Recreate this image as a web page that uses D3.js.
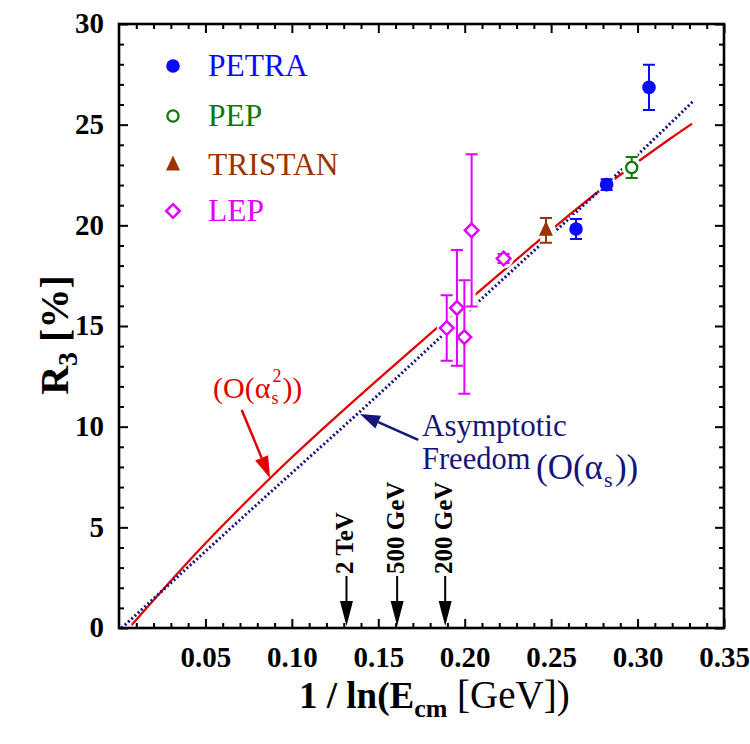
<!DOCTYPE html>
<html><head><meta charset="utf-8">
<script src="https://cdn.jsdelivr.net/npm/d3@7"></script>
<style>body{margin:0;background:#fff}svg{display:block}</style>
</head><body><svg id="c" width="750" height="744"></svg>
<script>
// ---- data ----
const xTicks = [0.05, 0.10, 0.15, 0.20, 0.25, 0.30, 0.35];
const xTickLabels = ["0.05", "0.10", "0.15", "0.20", "0.25", "0.30", "0.35"];
const yTicks = [0, 5, 10, 15, 20, 25, 30];
const yTickLabels = ["0", "5", "10", "15", "20", "25", "30"];

const petra = [ {x:0.2644, y:19.82, e:0.50}, {x:0.2821, y:22.02, e:0.27}, {x:0.3066, y:26.85, e:1.12} ];
const pep = [ {x:0.2966, y:22.87, e:0.52} ];
const tristan = [ {x:0.2470, y:19.75, e:0.62} ];
const lep = [ {x:0.1896, y:14.90, e:1.63}, {x:0.1955, y:15.90, e:2.88}, {x:0.1998, y:14.45, e:2.82}, {x:0.2040, y:19.75, e:3.78}, {x:0.2225, y:18.35, e:0.22} ];

const red2 = [ [0.0073,0.15],[0.045,3.75],[0.0874,7.44],[0.176,14.31],[0.2416,19.15],[0.2619,20.62],[0.3188,24.30],[0.3315,25.05] ];
const blue1 = [ [0.0015,0.0],[0.0864,6.65],[0.1394,10.75],[0.2098,16.35],[0.309,24.24],[0.3326,26.2] ];

const energyArrows = [ {x:0.1316, label:"2 TeV"}, {x:0.1609, label:"500 GeV"}, {x:0.1887, label:"200 GeV"} ];
const legendNames = ["PETRA", "PEP", "TRISTAN", "LEP"];

// ---- setup ----
const svg = d3.select("#c");
const FONT = "'Liberation Serif','Times New Roman',serif";
const M = {l:119, r:724, t:24, b:628};
const x = d3.scaleLinear().domain([0, 0.35]).range([M.l, M.r]);
const y = d3.scaleLinear().domain([0, 30]).range([M.b, M.t]);

const C = {petra:"#0a0aff", pep:"#0a7a0a", tristan:"#993300", lep:"#e000ff", red:"#e00000", navy:"#15157a"};

// ---- axes ----
const xMinor = d3.range(1, 35).map(i => i/100).filter(v => Math.round(v*100) % 5 !== 0);
const yMinor = d3.range(1, 30).filter(v => v % 5 !== 0);

function ax(gen, tr, vals, size, labels) {
  const g = svg.append("g").attr("transform", tr)
    .call(gen.tickValues(vals).tickSize(size).tickSizeOuter(0).tickFormat(labels ? ((d,i)=>labels[i]) : ""));
  g.select(".domain").remove();
  g.selectAll(".tick line").attr("stroke","#000").attr("stroke-width",2);
  return g;
}
const gxb = ax(d3.axisBottom(x), `translate(0,${M.b})`, xTicks, -9, xTickLabels);
ax(d3.axisBottom(x), `translate(0,${M.b})`, xMinor, -5);
ax(d3.axisTop(x), `translate(0,${M.t})`, xTicks, -9);
ax(d3.axisTop(x), `translate(0,${M.t})`, xMinor, -5);
const gyl = ax(d3.axisLeft(y), `translate(${M.l},0)`, yTicks, -9, yTickLabels);
ax(d3.axisLeft(y), `translate(${M.l},0)`, yMinor, -5);
ax(d3.axisRight(y), `translate(${M.r},0)`, yTicks, -9);
ax(d3.axisRight(y), `translate(${M.r},0)`, yMinor, -5);

gxb.selectAll("text").attr("font-family",FONT).attr("font-weight","bold").attr("font-size",29).attr("fill","#000").attr("dy",null).attr("y",39);
gyl.selectAll("text").attr("font-family",FONT).attr("font-weight","bold").attr("font-size",29).attr("fill","#000").attr("x",-15).attr("dy","0.3em");

// ---- curves ----
const line = d3.line().x(d => x(d[0])).y(d => y(d[1])).curve(d3.curveMonotoneX);
svg.append("path").datum(red2).attr("d", line).attr("fill","none").attr("stroke",C.red).attr("stroke-width",2.2);
svg.append("path").datum(blue1).attr("d", line).attr("fill","none").attr("stroke",C.navy).attr("stroke-width",3)
   .attr("stroke-dasharray","2,2.4");

// ---- markers ----
function marker(g, type, cx, cy, col) {
  if (type === "petra") g.append("circle").attr("cx",cx).attr("cy",cy).attr("r",6.8).attr("fill",col);
  else if (type === "pep") g.append("circle").attr("cx",cx).attr("cy",cy).attr("r",5.6).attr("fill","#fff").attr("stroke",col).attr("stroke-width",2.3);
  else if (type === "tristan") g.append("path").attr("d",`M${cx},${cy-9.5}L${cx+7},${cy+5.5}L${cx-7},${cy+5.5}Z`).attr("fill",col);
  else g.append("path").attr("d",`M${cx},${cy-6.8}L${cx+6.8},${cy}L${cx},${cy+6.8}L${cx-6.8},${cy}Z`).attr("fill","#fff").attr("stroke",col).attr("stroke-width",2.5);
}
function series(data, type, col) {
  const g = svg.append("g");
  data.forEach(d => {
    const cx = x(d.x), y1 = y(d.y + d.e), y2 = y(d.y - d.e);
    g.append("path").attr("d",`M${cx},${y1}V${y2}M${cx-6},${y1}H${cx+6}M${cx-6},${y2}H${cx+6}`)
      .attr("stroke","#fff").attr("stroke-width",8).attr("fill","none");
    g.append("circle").attr("cx",cx).attr("cy",y(d.y)).attr("r",10).attr("fill","#fff");
  });
  data.forEach(d => {
    const cx = x(d.x), y1 = y(d.y + d.e), y2 = y(d.y - d.e);
    g.append("path").attr("d",`M${cx},${y1}V${y2}M${cx-6},${y1}H${cx+6}M${cx-6},${y2}H${cx+6}`)
      .attr("stroke",col).attr("stroke-width",2).attr("fill","none");
    marker(g, type, cx, y(d.y), col);
  });
}
series(lep, "lep", C.lep);
series(tristan, "tristan", C.tristan);
series(petra, "petra", C.petra);
series(pep, "pep", C.pep);

// ---- legend ----
const legTypes = ["petra","pep","tristan","lep"];
const legCols = [C.petra, C.pep, C.tristan, C.lep];
const legY = [66, 116, 165, 211];
legendNames.forEach((n, i) => {
  marker(svg, legTypes[i], 173, legY[i], legCols[i]);
  svg.append("text").attr("x",208).attr("y",legY[i]+10).attr("font-family",FONT).attr("font-size",31.5)
     .attr("fill",legCols[i]).text(n);
});

// ---- annotation arrows ----
function arrow(x1, y1, x2, y2, col, hl, hw) {
  const a = Math.atan2(y2-y1, x2-x1);
  const bx = x2 - hl*Math.cos(a), by = y2 - hl*Math.sin(a);
  svg.append("line").attr("x1",x1).attr("y1",y1).attr("x2",bx).attr("y2",by).attr("stroke",col).attr("stroke-width",2.5);
  const px = -Math.sin(a)*hw, py = Math.cos(a)*hw;
  svg.append("path").attr("d",`M${x2},${y2}L${bx+px},${by+py}L${bx-px},${by-py}Z`).attr("fill",col);
}
arrow(x(0.0710), y(10.83), x(0.0874), y(7.44), C.red, 22, 7);
arrow(x(0.1731), y(9.34), x(0.1394), y(10.63), C.navy, 20, 7);

function textAt(tx, ty, s, size, col, weight) {
  return svg.append("text").attr("x",tx).attr("y",ty).attr("font-family",FONT).attr("font-size",size)
    .attr("fill",col).attr("font-weight",weight||"normal").text(s);
}
// (O(αs^2))
let t = textAt(213, 398, "(O(α", 30, C.red);
let ex = 213 + t.node().getComputedTextLength() + 1;
textAt(ex+1, 382, "2", 18, C.red);
textAt(ex, 404, "s", 18, C.red);
textAt(ex + 11, 398, "))", 30, C.red);

textAt(422, 436, "Asymptotic", 31, C.navy);
textAt(422, 469, "Freedom", 30.5, C.navy);
t = textAt(536, 479, "(O(α", 35, C.navy);
ex = 536 + t.node().getComputedTextLength() + 1;
textAt(ex, 487, "s", 22, C.navy);
textAt(ex + 11, 479, "))", 35, C.navy);

// ---- energy arrows ----
energyArrows.forEach(d => {
  const ax0 = x(d.x);
  svg.append("line").attr("x1",ax0).attr("y1",576).attr("x2",ax0).attr("y2",603).attr("stroke","#000").attr("stroke-width",2);
  svg.append("path").attr("d",`M${ax0},${626}L${ax0+6.5},${601}L${ax0-6.5},${601}Z`).attr("fill","#000");
  svg.append("text").attr("transform",`translate(${ax0+7},${574}) rotate(-90)`).attr("font-family",FONT)
    .attr("font-weight","bold").attr("font-size",25).attr("fill","#000").text(d.label);
});

// ---- axis titles ----
const xt = svg.append("text").attr("x",299).attr("y",708).attr("font-family",FONT).attr("font-size",37).attr("fill","#000");
xt.append("tspan").attr("font-weight","bold").text("1 / ln(E");
xt.append("tspan").attr("font-weight","bold").attr("font-size",26).attr("dy",9).text("cm");
xt.append("tspan").attr("dy",-9).attr("font-size",39).text(" [GeV])");

const yt = svg.append("text").attr("transform","translate(68,335) rotate(-90)").attr("text-anchor","middle")
  .attr("font-family",FONT).attr("font-size",40).attr("fill","#000").attr("font-weight","bold");
yt.append("tspan").text("R");
yt.append("tspan").attr("font-size",28).attr("dy",9).text("3");
yt.append("tspan").attr("dy",-9).text(" [%]");

// ---- frame ----
svg.append("rect").attr("x",M.l).attr("y",M.t).attr("width",M.r-M.l).attr("height",M.b-M.t)
  .attr("fill","none").attr("stroke","#000").attr("stroke-width",2.6);
</script></body></html>
